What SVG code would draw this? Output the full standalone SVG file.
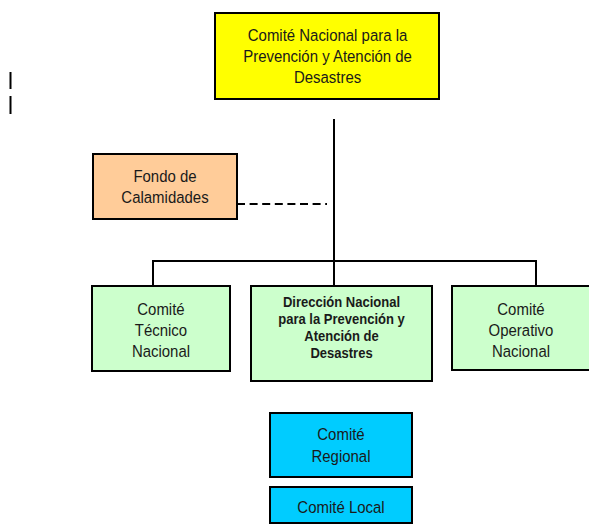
<svg xmlns="http://www.w3.org/2000/svg" width="589" height="525" viewBox="0 0 589 525">
<style>
.box{stroke:#000;stroke-width:2}
.t{font-family:"Liberation Sans",Arial,sans-serif;font-size:17px;fill:#1a1a1a;text-anchor:middle}
.b{font-family:"Liberation Sans",Arial,sans-serif;font-size:14.8px;font-weight:bold;fill:#1a1a1a;text-anchor:middle}
.ln{stroke:#000;stroke-width:2;fill:none}
</style>
<rect width="589" height="525" fill="#fff"/>
<g id="connectors">
<line class="ln" x1="334" y1="119" x2="334" y2="286"/>
<polyline class="ln" points="153,286 153,261 536,261 536,286"/>
<line class="ln" x1="237" y1="204" x2="327" y2="204" stroke-dasharray="8,4.6"/>
<line class="ln" x1="10.5" y1="72" x2="10.5" y2="89" stroke-width="1.6"/>
<line class="ln" x1="10.5" y1="96" x2="10.5" y2="114" stroke-width="1.6"/>
</g>
<g id="cnpad">
<rect class="box" x="215" y="13" width="224" height="86" fill="#FFFF00"/>
<g transform="scale(0.88,1)">
<text class="t" x="372.2" y="41.5">Comité Nacional para la</text>
<text class="t" x="372.2" y="62.5">Prevención y Atención de</text>
<text class="t" x="372.2" y="83.5">Desastres</text>
</g>
</g>
<g id="fondo">
<rect class="box" x="93" y="154" width="144" height="65" fill="#FFCC99"/>
<g transform="scale(0.88,1)">
<text class="t" x="187.5" y="182.5">Fondo de</text>
<text class="t" x="187.5" y="203.5">Calamidades</text>
</g>
</g>
<g id="tecnico">
<rect class="box" x="92" y="286" width="138" height="85" fill="#CCFFCC"/>
<g transform="scale(0.88,1)">
<text class="t" x="182.95" y="315">Comité</text>
<text class="t" x="182.95" y="336">Técnico</text>
<text class="t" x="182.95" y="357">Nacional</text>
</g>
</g>
<g id="direccion">
<rect class="box" x="251" y="286" width="181" height="95" fill="#CCFFCC"/>
<g transform="scale(0.88,1)">
<text class="b" x="388.1" y="307">Dirección Nacional</text>
<text class="b" x="388.1" y="324">para la Prevención y</text>
<text class="b" x="388.1" y="341">Atención de</text>
<text class="b" x="388.1" y="358">Desastres</text>
</g>
</g>
<g id="operativo">
<rect class="box" x="452" y="286" width="138" height="84" fill="#CCFFCC"/>
<g transform="scale(0.88,1)">
<text class="t" x="592.05" y="315">Comité</text>
<text class="t" x="592.05" y="336">Operativo</text>
<text class="t" x="592.05" y="357">Nacional</text>
</g>
</g>
<g id="regional">
<rect class="box" x="270" y="413" width="142" height="64" fill="#00CCFF"/>
<g transform="scale(0.88,1)">
<text class="t" x="387.5" y="440.5">Comité</text>
<text class="t" x="387.5" y="462">Regional</text>
</g>
</g>
<g id="local">
<rect class="box" x="270" y="487" width="142" height="36" fill="#00CCFF"/>
<g transform="scale(0.88,1)">
<text class="t" x="387.5" y="513">Comité Local</text>
</g>
</g>
</svg>
